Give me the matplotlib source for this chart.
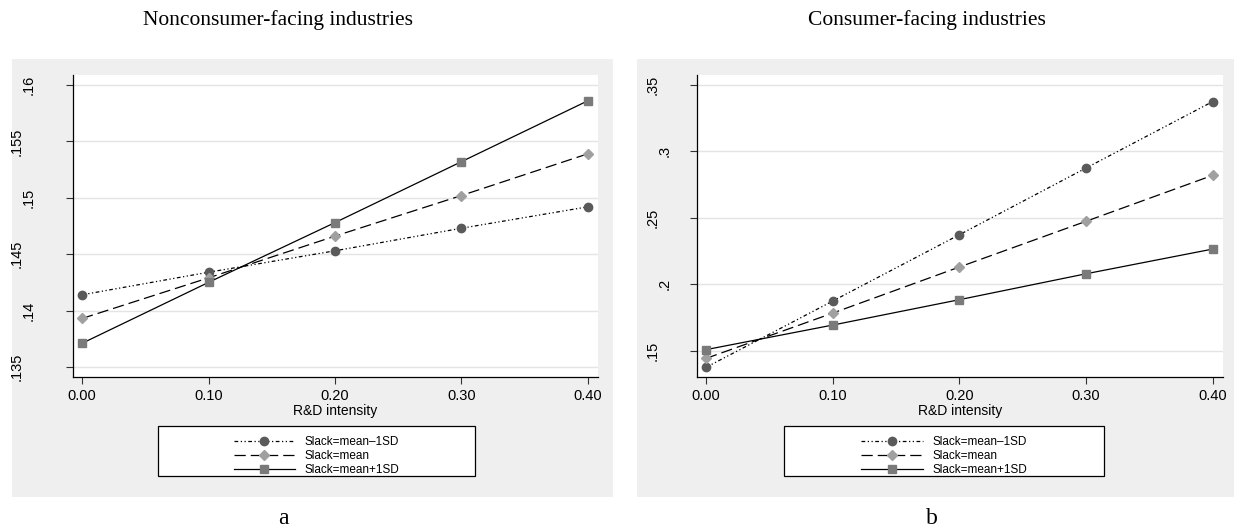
import matplotlib
matplotlib.use("Agg")
import matplotlib.pyplot as plt
from matplotlib.patches import Rectangle
from matplotlib.lines import Line2D

W, H = 1234, 530

# data
rd = [0.0, 0.1, 0.2, 0.3, 0.4]
xticks = [0.0, 0.1, 0.2, 0.3, 0.4]
xlabels = ["0.00", "0.10", "0.20", "0.30", "0.40"]

non_low = [0.1414, 0.1434, 0.1453, 0.1473, 0.1492]
non_mean = [0.1393, 0.1429, 0.1466, 0.1502, 0.1539]
non_high = [0.1371, 0.1425, 0.1478, 0.1532, 0.1586]
non_yticks = [0.135, 0.14, 0.145, 0.15, 0.155, 0.16]
non_ylabels = [".135", ".14", ".145", ".15", ".155", ".16"]

con_low = [0.1375, 0.1874, 0.2373, 0.2875, 0.3375]
con_mean = [0.1442, 0.1783, 0.2130, 0.2474, 0.2820]
con_high = [0.1508, 0.1693, 0.1884, 0.2079, 0.2265]
con_yticks = [0.15, 0.2, 0.25, 0.3, 0.35]
con_ylabels = [".15", ".2", ".25", ".3", ".35"]

series_names = ["Slack=mean\u20131SD", "Slack=mean", "Slack=mean+1SD"]

plt.rcParams['font.family'] = ['Liberation Sans', 'DejaVu Sans']

fig = plt.figure(figsize=(W / 100, H / 100), dpi=100)


def px(x0, y0, x1, y1):
    return [x0 / W, 1 - y1 / H, (x1 - x0) / W, (y1 - y0) / H]


styles = [
    dict(ls=(0, (3, 2, 1, 2, 1, 2)), marker='o', mfc='#5a5a5a', mec='#5a5a5a', ms=6),
    dict(ls=(0, (9, 4)), marker='D', mfc='#a0a0a0', mec='#a0a0a0', ms=5.5),
    dict(ls='-', marker='s', mfc='#7a7a7a', mec='#7a7a7a', ms=6),
]


def panel(gx0, gx1, ax_box, ylim, yticks, ylabels, ys, title, tx, letter, leg_box):
    fig.patches.append(Rectangle((gx0 / W, 1 - 497 / H), (gx1 - gx0) / W, (497 - 59) / H,
                                 transform=fig.transFigure, facecolor='#efefef',
                                 edgecolor='none', zorder=-2))
    ax = fig.add_axes(px(*ax_box))
    ax.set_facecolor('white')
    for y, st in zip(ys, styles):
        ax.plot(rd, y, color='black', lw=0.9, zorder=3, **st)
    ax.set_xlim(-0.0072, 0.4081)
    ax.set_ylim(*ylim)
    ax.set_xticks(xticks)
    ax.set_xticklabels(xlabels, fontsize=10.5)
    ax.set_yticks(yticks)
    ax.set_yticklabels(ylabels, fontsize=10.5, rotation=90, va='center')
    ax.tick_params(direction='out', length=5, width=0.8, color='#333333', pad=4)
    # Stata-like label offset: shorter labels sit closer to the axis
    for tick, lab in zip(ax.yaxis.get_major_ticks(), ylabels):
        tick.set_pad(8.5 * len(lab) - 3.5)
    ax.grid(axis='y', color='#e4e4e4', lw=1)
    ax.set_axisbelow(True)
    for s in ['top', 'right']:
        ax.spines[s].set_visible(False)
    for s in ['left', 'bottom']:
        ax.spines[s].set_linewidth(0.9)
    ax.set_xlabel("R&D intensity", fontsize=10, labelpad=0)
    fig.text(tx / W, 1 - 20 / H, title, ha='center', va='center',
             family='Liberation Serif', fontsize=15.5)
    fig.text(tx / W + (5 / W), 1 - 518 / H, letter, ha='center', va='center',
             family='Liberation Serif', fontsize=17)
    handles = [Line2D([], [], color='black', lw=0.9, **st) for st in styles]
    lx0, ly0, lx1, ly1 = leg_box
    fig.patches.append(Rectangle((lx0 / W, 1 - ly1 / H), (lx1 - lx0) / W, (ly1 - ly0) / H,
                                 transform=fig.transFigure, facecolor='white',
                                 edgecolor='black', lw=0.9, zorder=-1))
    fig.legend(handles, series_names, loc='center', ncol=1,
               bbox_to_anchor=((lx0 + lx1) / 2 / W, 1 - ((ly0 + ly1) / 2 + 5) / H),
               frameon=False, fontsize=8.5, handlelength=5.2, handletextpad=0.8,
               labelspacing=0.15, borderpad=0.2)
    return ax


panel(12, 613, (73, 75, 598, 377), (0.13411, 0.16089), non_yticks, non_ylabels,
      [non_low, non_mean, non_high], "Nonconsumer-facing industries", 278, "a",
      (158, 426, 475, 476))
panel(637, 1234, (697, 75, 1223, 377), (0.1302, 0.3575), con_yticks, con_ylabels,
      [con_low, con_mean, con_high], "Consumer-facing industries", 927, "b",
      (784, 426, 1104, 476))

fig.savefig("out.png", dpi=100, facecolor='white')
